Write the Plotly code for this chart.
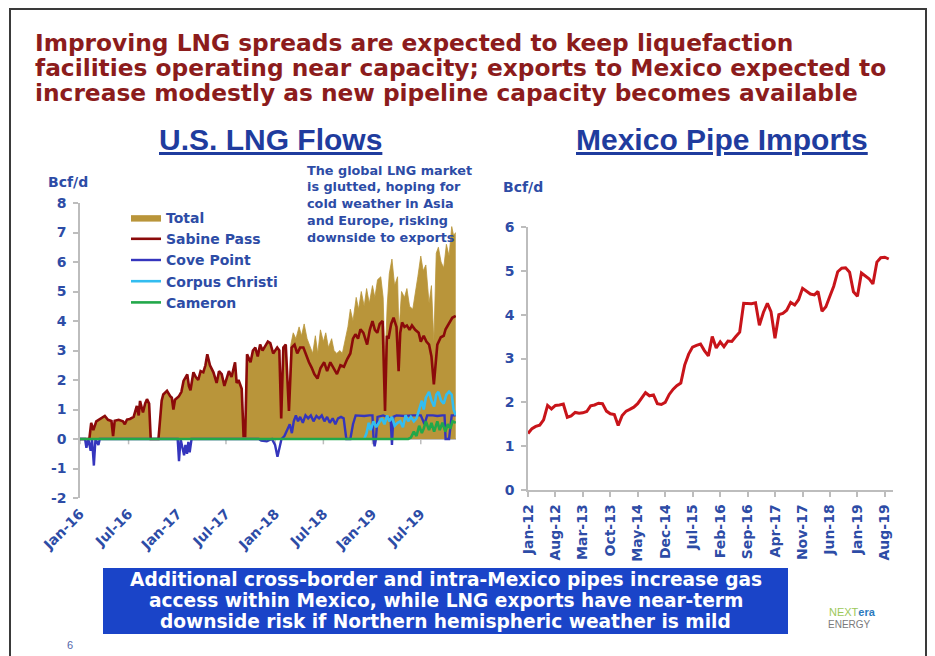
import plotly.graph_objects as go
import pandas as pd

# ---------------- DATA ----------------
# U.S. LNG flows (Bcf/d)
sabine_dates = ["2016-01-01","2016-02-05","2016-02-12","2016-02-20","2016-03-02","2016-03-15","2016-04-03","2016-04-15",
                "2016-04-28","2016-05-04","2016-05-10","2016-05-25","2016-06-10","2016-06-17","2016-06-25","2016-07-06",
                "2016-07-20","2016-08-01","2016-08-08","2016-08-13","2016-08-24","2016-09-01","2016-09-08","2016-09-16",
                "2016-09-22","2016-10-21","2016-11-02","2016-11-08","2016-11-22","2016-12-04","2016-12-10","2016-12-16",
                "2016-12-22","2017-01-05","2017-01-15","2017-01-23","2017-02-06","2017-02-12","2017-02-18","2017-03-01",
                "2017-03-10","2017-03-19","2017-03-28","2017-04-07","2017-04-15","2017-04-22","2017-05-02","2017-05-15",
                "2017-05-27","2017-06-05","2017-06-15","2017-06-25","2017-07-03","2017-07-12","2017-07-22","2017-08-04",
                "2017-08-10","2017-08-17","2017-08-29","2017-09-05","2017-09-11","2017-09-18","2017-10-01","2017-10-10",
                "2017-10-19","2017-10-28","2017-11-06","2017-11-15","2017-11-25","2017-12-05","2017-12-14","2017-12-25",
                "2018-01-09","2018-01-17","2018-01-24","2018-02-01","2018-02-10","2018-02-22","2018-03-04","2018-03-15",
                "2018-03-25","2018-04-05","2018-04-17","2018-04-28","2018-05-08","2018-05-18","2018-05-28","2018-06-09",
                "2018-06-20","2018-07-04","2018-07-15","2018-07-27","2018-08-08","2018-08-21","2018-09-03","2018-09-16",
                "2018-09-28","2018-10-10","2018-10-20","2018-10-29","2018-11-08","2018-11-17","2018-11-28","2018-12-12",
                "2018-12-22","2019-01-01","2019-01-10","2019-01-19","2019-01-28","2019-02-08","2019-02-17","2019-02-24",
                "2019-03-02","2019-03-12","2019-03-21","2019-04-01","2019-04-09","2019-04-15","2019-04-22","2019-05-01",
                "2019-05-10","2019-05-20","2019-05-29","2019-06-10","2019-06-23","2019-07-01","2019-07-12","2019-07-22",
                "2019-08-01","2019-08-10","2019-08-19","2019-08-26","2019-09-01","2019-09-14","2019-09-25","2019-10-02",
                "2019-10-14","2019-10-27","2019-11-09"]
sabine_vals = [0.0,0.0,0.55,0.3,0.6,0.67,0.78,0.65,
               0.61,0.1,0.62,0.65,0.6,0.5,0.66,0.68,
               0.75,1.12,0.8,1.29,0.9,1.2,1.35,1.2,
               0.0,0.0,1.3,1.51,1.63,1.45,1.4,1.0,
               1.33,1.44,1.6,1.97,2.19,1.8,1.65,2.26,
               2.1,2.0,2.3,2.26,2.5,2.87,2.5,2.26,
               1.9,2.3,2.2,1.8,2.0,2.3,2.1,2.6,
               1.9,2.0,1.7,0.1,0.1,2.87,2.6,3.0,
               3.1,2.8,3.2,3.0,3.15,3.3,3.25,2.9,
               3.1,3.0,0.7,3.1,3.2,0.95,3.1,3.2,
               2.9,3.1,3.1,2.8,2.6,2.42,2.2,2.05,
               2.4,2.6,2.3,2.6,2.4,2.2,2.5,2.45,
               2.7,2.9,3.4,3.55,3.4,3.72,3.6,3.2,
               3.7,4.0,3.7,3.6,3.9,4.0,0.95,3.5,
               3.4,3.9,4.11,3.8,2.3,3.6,3.95,3.8,
               3.85,3.7,3.85,3.7,3.6,3.3,3.5,3.3,
               3.2,2.8,1.85,2.6,3.2,3.45,3.5,3.72,
               3.9,4.11,4.17]

# Total after other terminals came online (before March 2018 Total equals Sabine Pass)
total_late_dates = ["2018-03-01","2018-03-10","2018-03-20","2018-04-01","2018-04-10","2018-04-20","2018-05-01","2018-05-12",
                    "2018-05-22","2018-06-01","2018-06-10","2018-06-20","2018-07-01","2018-07-10","2018-07-20","2018-08-01",
                    "2018-08-10","2018-08-20","2018-09-01","2018-09-10","2018-09-20","2018-10-01","2018-10-10","2018-10-20",
                    "2018-11-01","2018-11-10","2018-11-20","2018-12-01","2018-12-10","2018-12-20","2019-01-01","2019-01-10",
                    "2019-01-20","2019-02-01","2019-02-10","2019-02-17","2019-02-25","2019-03-05","2019-03-15","2019-03-25",
                    "2019-04-05","2019-04-10","2019-04-20","2019-05-01","2019-05-10","2019-05-20","2019-06-01","2019-06-10",
                    "2019-06-20","2019-07-01","2019-07-10","2019-07-20","2019-08-01","2019-08-10","2019-08-19","2019-08-28",
                    "2019-09-05","2019-09-15","2019-09-25","2019-10-05","2019-10-15","2019-10-25","2019-11-01","2019-11-09"]
total_late_vals = [3.2,3.6,3.4,3.8,3.5,3.9,3.4,3.1,
                   2.9,3.5,2.9,3.7,3.3,3.6,3.1,3.4,
                   3.0,2.9,3.0,2.9,3.3,3.8,4.4,4.0,
                   4.8,4.4,5.0,4.5,5.1,4.6,5.2,4.8,
                   5.4,5.5,4.8,2.5,4.5,5.6,6.1,5.2,
                   5.5,3.6,5.0,4.8,5.1,4.5,4.4,5.0,
                   5.5,6.2,5.7,5.9,4.6,5.2,3.3,6.3,
                   6.5,6.0,5.8,6.6,6.2,7.2,6.9,7.0]

cove_dates = ["2016-01-01","2016-01-20","2016-01-25","2016-02-01","2016-02-10","2016-02-15","2016-02-22","2016-02-28",
              "2016-03-10","2016-03-15","2017-01-01","2017-01-06","2017-01-12","2017-01-25","2017-01-30","2017-02-05",
              "2017-02-10","2017-02-15","2017-02-22","2017-11-01","2017-11-10","2017-12-01","2017-12-20","2018-01-01",
              "2018-01-10","2018-01-18","2018-01-25","2018-02-05","2018-02-15","2018-02-25","2018-03-05","2018-03-12",
              "2018-03-20","2018-03-28","2018-04-05","2018-04-15","2018-04-25","2018-05-05","2018-05-15","2018-05-25",
              "2018-06-05","2018-06-15","2018-06-25","2018-07-05","2018-07-15","2018-07-25","2018-08-05","2018-08-15",
              "2018-08-25","2018-09-05","2018-09-15","2018-09-25","2018-10-10","2018-10-20","2018-10-30","2018-12-01",
              "2018-12-20","2019-01-01","2019-01-05","2019-01-09","2019-01-14","2019-01-20","2019-02-10","2019-03-10",
              "2019-03-15","2019-03-20","2019-04-01","2019-05-01","2019-06-01","2019-07-01","2019-07-15","2019-07-25",
              "2019-08-15","2019-09-01","2019-09-20","2019-09-28","2019-10-02","2019-10-15","2019-10-25","2019-11-09"]
cove_vals = [0.0,0.0,-0.3,0.0,-0.4,0.0,-0.9,0.0,
             -0.2,0.0,0.0,-0.75,0.0,-0.55,-0.2,-0.5,
             -0.1,-0.45,0.0,0.0,-0.05,-0.08,0.0,-0.2,
             -0.6,-0.3,0.0,0.1,0.3,0.5,0.2,0.6,
             0.8,0.6,0.75,0.55,0.8,0.7,0.8,0.6,
             0.78,0.7,0.8,0.6,0.75,0.55,0.7,0.5,
             0.7,0.75,0.7,0.0,0.0,0.5,0.8,0.78,
             0.8,0.8,0.0,-0.25,0.0,0.75,0.8,0.7,
             -0.2,0.75,0.8,0.78,0.8,0.8,0.5,0.8,
             0.8,0.78,0.8,0.8,0.0,0.0,0.8,0.8]

corpus_dates = ["2018-12-01","2018-12-10","2018-12-18","2018-12-25","2019-01-05","2019-01-15","2019-01-25","2019-02-05",
                "2019-02-15","2019-02-25","2019-03-05","2019-03-15","2019-03-25","2019-04-05","2019-04-15","2019-04-25",
                "2019-05-05","2019-05-15","2019-05-25","2019-06-05","2019-06-15","2019-06-25","2019-07-05","2019-07-12",
                "2019-07-20","2019-08-01","2019-08-10","2019-08-20","2019-08-28","2019-09-05","2019-09-15","2019-09-25",
                "2019-10-05","2019-10-15","2019-10-25","2019-11-01","2019-11-09"]
corpus_vals = [0.0,0.2,0.55,0.3,0.6,0.4,0.55,0.7,
               0.5,0.8,0.6,0.75,0.45,0.55,0.6,0.4,
               0.8,0.6,0.75,0.6,0.7,1.0,1.3,1.0,
               1.4,1.6,1.3,1.1,1.5,1.6,1.3,1.2,
               1.5,1.6,1.5,1.0,0.8]

cameron_dates = ["2016-01-01","2019-05-15","2019-05-25","2019-06-05","2019-06-15","2019-06-25","2019-07-05","2019-07-12",
                 "2019-07-20","2019-08-01","2019-08-10","2019-08-20","2019-09-01","2019-09-10","2019-09-20","2019-10-01",
                 "2019-10-10","2019-10-20","2019-10-28","2019-11-09"]
cameron_vals = [0.0,0.0,0.05,0.25,0.1,0.45,0.2,0.35,
                0.6,0.3,0.55,0.25,0.6,0.3,0.55,0.25,
                0.5,0.35,0.6,0.55]

lng_tick_dates = ["2016-01-01","2016-07-01","2017-01-01","2017-07-01","2018-01-01","2018-07-01","2019-01-01","2019-07-01"]
lng_tick_text = ["Jan-16","Jul-16","Jan-17","Jul-17","Jan-18","Jul-18","Jan-19","Jul-19"]
lng_y_ticks = [-2, -1, 0, 1, 2, 3, 4, 5, 6, 7, 8]
lng_y_text = ["-2", "-1", "0", "1", "2", "3", "4", "5", "6", "7", "8"]

# Mexico pipeline imports (Bcf/d), monthly from Jan-2012
mexico_start = "2012-01-01"
mexico_imports = [1.29,1.40,1.45,1.48,1.60,1.93,1.85,1.93,1.94,1.96,1.66,1.69,
                  1.77,1.75,1.76,1.79,1.92,1.94,1.98,1.97,1.80,1.74,1.72,1.47,
                  1.70,1.80,1.84,1.89,1.97,2.10,2.22,2.15,2.17,1.97,1.95,2.00,
                  2.18,2.30,2.38,2.44,2.85,3.10,3.26,3.30,3.33,3.18,3.06,3.50,
                  3.24,3.38,3.27,3.40,3.39,3.50,3.60,4.26,4.26,4.25,4.27,3.76,
                  4.05,4.26,4.07,3.46,4.00,4.03,4.10,4.28,4.22,4.34,4.60,4.53,
                  4.47,4.45,4.53,4.08,4.18,4.42,4.65,4.98,5.06,5.07,4.97,4.52,
                  4.42,4.95,4.88,4.82,4.70,5.20,5.30,5.31,5.27]
mexico_tick_dates = ["2012-01-01","2012-08-01","2013-03-01","2013-10-01","2014-05-01","2014-12-01","2015-07-01",
                     "2016-02-01","2016-09-01","2017-04-01","2017-11-01","2018-06-01","2019-01-01","2019-08-01"]
mexico_tick_text = ["Jan-12","Aug-12","Mar-13","Oct-13","May-14","Dec-14","Jul-15",
                    "Feb-16","Sep-16","Apr-17","Nov-17","Jun-18","Jan-19","Aug-19"]

title_lines = ["Improving LNG spreads are expected to keep liquefaction",
               "facilities operating near capacity; exports to Mexico expected to",
               "increase modestly as new pipeline capacity becomes available"]
note_lines = ["The global LNG market", "is glutted, hoping for", "cold weather in Asia",
              "and Europe, risking", "downside to exports"]
box_lines = ["Additional cross-border and intra-Mexico pipes increase gas",
             "access within Mexico, while LNG exports have near-term",
             "downside risk if Northern hemispheric weather is mild"]

# ---------------- FIGURE ----------------
W, H = 935, 656
OFF = 8  # the page body adds an 8px margin; positions below are given in window pixels


def px(x):
    return (x - OFF) / W


def py(y):
    return 1 - (y - OFF) / H


BLUE = "#2D4CA6"
TBLUE = "#1F3C9E"
GRAY = "#BDBDBD"
WIDE = "DejaVu Sans"
ARIAL = "Liberation Sans, Arial"

early = [(d, v) for d, v in zip(sabine_dates, sabine_vals) if d < "2018-03-01"]
total_dates = [d for d, _ in early] + total_late_dates
total_vals = [v for _, v in early] + total_late_vals

fig = go.Figure()
fig.add_trace(go.Scatter(x=total_dates, y=total_vals, name="Total", mode="lines",
                         fill="tozeroy", fillcolor="#B9953A", line=dict(color="#B9953A", width=0.8),
                         xaxis="x", yaxis="y"))
fig.add_trace(go.Scatter(x=sabine_dates, y=sabine_vals, name="Sabine Pass", mode="lines",
                         line=dict(color="#8B0A0A", width=2.6), xaxis="x", yaxis="y"))
fig.add_trace(go.Scatter(x=cove_dates, y=cove_vals, name="Cove Point", mode="lines",
                         line=dict(color="#3535BD", width=2.4), xaxis="x", yaxis="y"))
fig.add_trace(go.Scatter(x=corpus_dates, y=corpus_vals, name="Corpus Christi", mode="lines",
                         line=dict(color="#33BDF0", width=2.6), xaxis="x", yaxis="y"))
fig.add_trace(go.Scatter(x=cameron_dates, y=cameron_vals, name="Cameron", mode="lines",
                         line=dict(color="#22A84A", width=2.6), xaxis="x", yaxis="y"))

mexico_months = pd.date_range(mexico_start, periods=len(mexico_imports), freq="MS")
fig.add_trace(go.Scatter(x=mexico_months, y=mexico_imports, mode="lines", showlegend=False,
                         line=dict(color="#C8141A", width=3), xaxis="x2", yaxis="y2"))

tickfont = dict(family=WIDE, size=14, color=BLUE, weight="bold")

fig.update_layout(
    width=W, height=H, margin=dict(l=0, r=0, t=0, b=0, pad=0, autoexpand=False),
    paper_bgcolor="white", plot_bgcolor="white",
    showlegend=True,
    legend=dict(x=px(126), y=py(202), xanchor="left", yanchor="top",
                bgcolor="rgba(0,0,0,0)", font=dict(family=WIDE, size=14, color=BLUE, weight="bold"),
                tracegroupgap=0, itemwidth=30),
    xaxis=dict(domain=[px(80), px(456)], anchor="y", type="date", automargin=False,
               range=["2016-01-01", "2019-11-10"], showgrid=False, showline=False, zeroline=False,
               tickvals=lng_tick_dates, ticktext=lng_tick_text, tickangle=-45, ticks="",
               tickfont=tickfont, ticklabelstandoff=4),
    yaxis=dict(domain=[py(498), py(203)], anchor="x", range=[-2, 8], automargin=False,
               tickvals=lng_y_ticks, ticktext=lng_y_text,
               showgrid=False, showline=True, linecolor=GRAY, linewidth=1.5,
               ticks="outside", ticklen=5, tickcolor=GRAY, tickwidth=1.5,
               zeroline=True, zerolinecolor=GRAY, zerolinewidth=1.5,
               tickfont=tickfont, ticklabelstandoff=4),
    xaxis2=dict(domain=[px(528), px(893)], anchor="y2", type="date", automargin=False,
                range=["2012-01-01", "2019-10-04"], showgrid=False, showline=True,
                linecolor=GRAY, linewidth=1.5, ticks="outside", ticklen=5, tickcolor=GRAY, tickwidth=1.5,
                tickvals=mexico_tick_dates, ticktext=mexico_tick_text, tickangle=-90,
                tickfont=tickfont, ticklabelstandoff=2, zeroline=False),
    yaxis2=dict(domain=[py(490), py(227)], anchor="x2", range=[0, 6], dtick=1, automargin=False,
                showgrid=False, showline=True, linecolor=GRAY, linewidth=1.5,
                ticks="outside", ticklen=5, tickcolor=GRAY, tickwidth=1.5, zeroline=False,
                tickfont=tickfont, ticklabelstandoff=4),
)

shapes = []
# slide frame
shapes.append(dict(type="rect", xref="paper", yref="paper", x0=px(10), x1=px(926), y0=py(670), y1=py(9),
                   line=dict(color="#3A3A3A", width=2), fillcolor="rgba(0,0,0,0)", layer="above"))
# small tick marks on the zero line of the LNG chart
for d in lng_tick_dates:
    shapes.append(dict(type="line", xref="x", yref="y", x0=d, x1=d, y0=0, y1=-0.18,
                       line=dict(color=GRAY, width=1.5), layer="below"))
# blue call-out box
shapes.append(dict(type="rect", xref="paper", yref="paper", x0=px(103), x1=px(788), y0=py(634), y1=py(568),
                   line=dict(color="#1A44C8", width=0), fillcolor="#1A44C8"))
fig.update_layout(shapes=shapes)

ann = []
for i, t in enumerate(title_lines):
    ann.append(dict(text=f"<b>{t}</b>", x=px(33), y=py(42 + 25 * i), xref="paper", yref="paper",
                    xanchor="left", yanchor="middle", showarrow=False,
                    font=dict(family=WIDE, size=23.3, color="#8C1C1C")))
ann.append(dict(text="<b><u>U.S. LNG Flows</u></b>", x=px(270), y=py(140), xref="paper", yref="paper",
                xanchor="center", yanchor="middle", showarrow=False,
                font=dict(family=ARIAL, size=30, color=TBLUE)))
ann.append(dict(text="<b><u>Mexico Pipe Imports</u></b>", x=px(722), y=py(140), xref="paper", yref="paper",
                xanchor="center", yanchor="middle", showarrow=False,
                font=dict(family=ARIAL, size=30, color=TBLUE)))
for xx, yy in [(68, 182), (523, 187)]:
    ann.append(dict(text="<b>Bcf/d</b>", x=px(xx), y=py(yy), xref="paper", yref="paper",
                    xanchor="center", yanchor="middle", showarrow=False,
                    font=dict(family=WIDE, size=14, color=BLUE)))
for i, t in enumerate(note_lines):
    ann.append(dict(text=f"<b>{t}</b>", x=px(305), y=py(170 + 16.8 * i), xref="paper", yref="paper",
                    xanchor="left", yanchor="middle", showarrow=False,
                    font=dict(family=WIDE, size=12.8, color=BLUE)))
for i, t in enumerate(box_lines):
    ann.append(dict(text=f"<b>{t}</b>", x=px(445.5), y=py(579.5 + 21 * i), xref="paper", yref="paper",
                    xanchor="center", yanchor="middle", showarrow=False,
                    font=dict(family=WIDE, size=18.6, color="white")))
ann.append(dict(text="6", x=px(70), y=py(645), xref="paper", yref="paper", showarrow=False,
                xanchor="center", yanchor="middle", font=dict(family=ARIAL, size=11, color="#5566AA")))
ann.append(dict(text="<span style='color:#9CC85A'>NEXT</span><span style='color:#2B7BC0'><b>era</b></span>",
                x=px(852), y=py(612), xref="paper", yref="paper", showarrow=False,
                xanchor="center", yanchor="middle", font=dict(family=ARIAL, size=11)))
ann.append(dict(text="ENERGY", x=px(849), y=py(624), xref="paper", yref="paper", showarrow=False,
                xanchor="center", yanchor="middle", font=dict(family=ARIAL, size=10, color="#7A7A7A")))
fig.update_layout(annotations=ann)

fig.write_html("out.html")
